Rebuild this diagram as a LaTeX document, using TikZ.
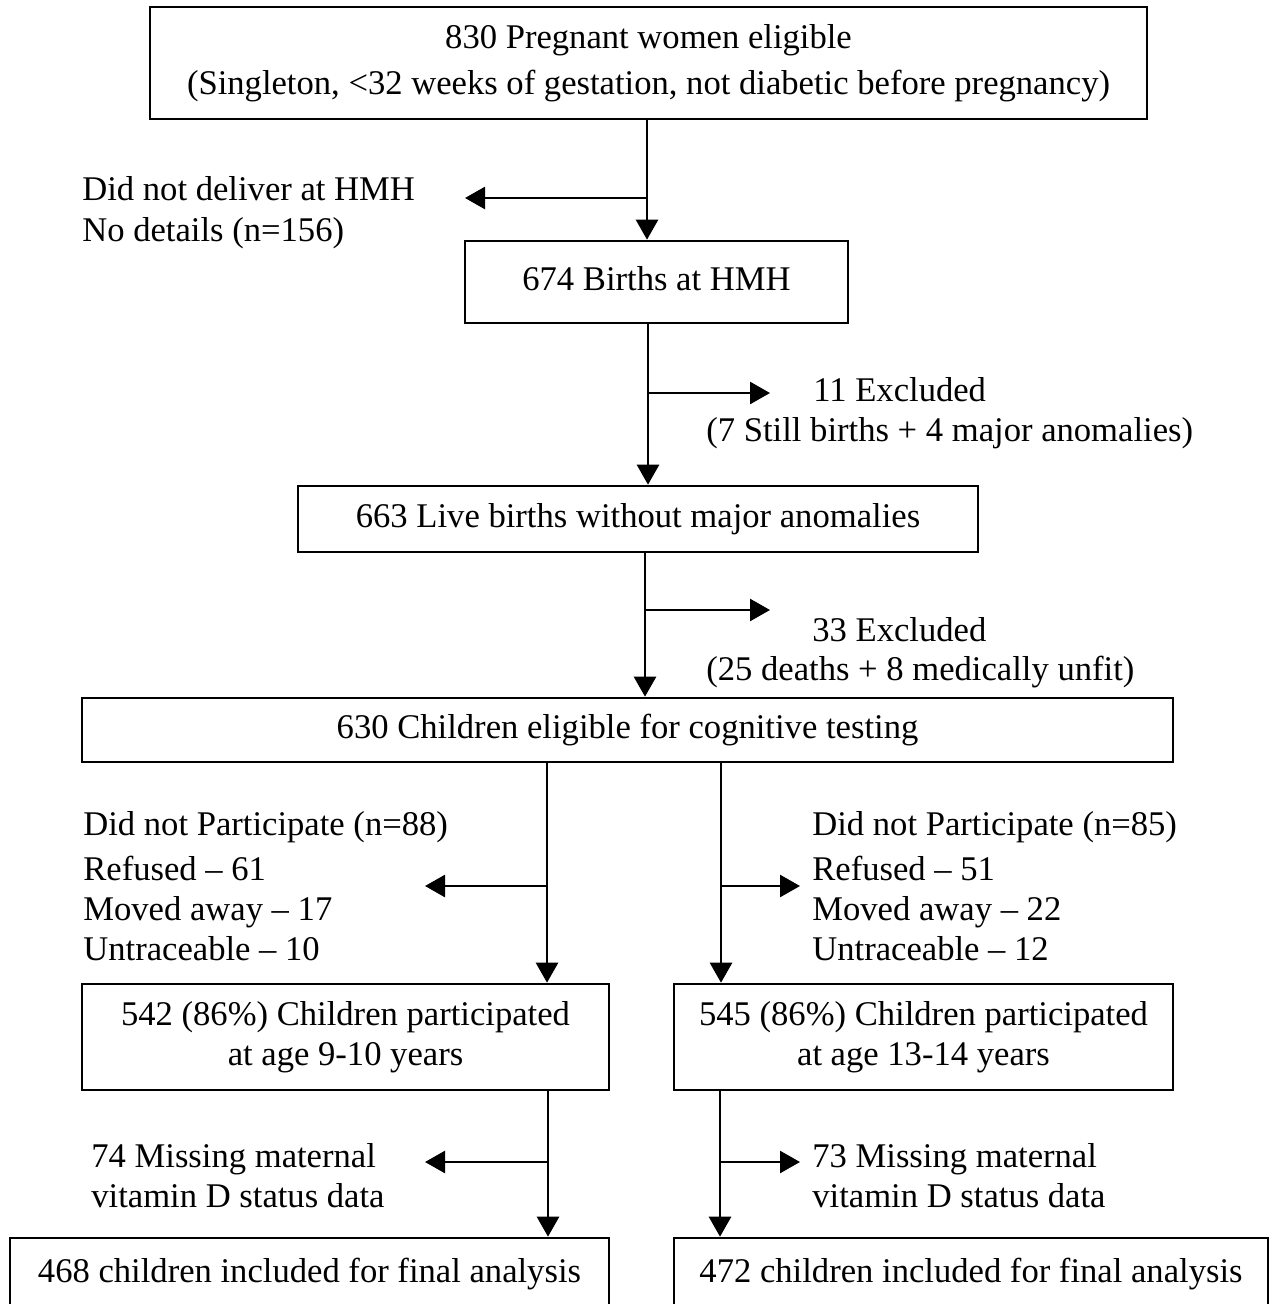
\documentclass[tikz,border=0pt]{standalone}
\usepackage{fontspec}
\setmainfont{Liberation Serif}
\usetikzlibrary{arrows.meta}
\begin{document}
\begin{tikzpicture}[x=0.02cm,y=-0.02cm,
  every node/.style={font=\fontsize{19.7}{22.8}\selectfont, inner sep=0pt},
  box/.style={draw, line width=1.5pt, align=center},
  one/.style={text height=1em, text depth=0.08em},
  lbl/.style={anchor=base west},
  arr/.style={line width=1.5pt, -{Triangle[length=0.4cm,width=0.44cm]}},
  side/.style={line width=1.5pt, -{Triangle[length=0.4cm,width=0.44cm]}}]
\useasboundingbox (0,0) rectangle (1274,1304);

% boxes
\node[box, minimum width=19.94cm, minimum height=2.24cm, font=\fontsize{19.7}{26.2}\selectfont] (b1) at (648.5,63)
  {\raisebox{-4\pgflinewidth}{}830 Pregnant women eligible\\(Singleton, <32 weeks of gestation, not diabetic before pregnancy)};
\node[box, one, minimum width=7.66cm, minimum height=1.64cm] (b2) at (656.5,282) {674 Births at HMH};
\node[box, one, minimum width=13.6cm, minimum height=1.32cm] (b3) at (638,519) {663 Live births without major anomalies};
\node[box, one, minimum width=21.82cm, minimum height=1.28cm] (b4) at (627.5,730) {630 Children eligible for cognitive testing};
\node[box, minimum width=10.54cm, minimum height=2.12cm] (b5) at (345.5,1037) {542 (86\%) Children participated\\at age 9-10 years};
\node[box, minimum width=9.98cm, minimum height=2.12cm] (b6) at (923.5,1037) {545 (86\%) Children participated\\at age 13-14 years};
\node[box, one, minimum width=11.98cm, minimum height=1.44cm] (b7) at (309.5,1274) {468 children included for final analysis};
\node[box, one, minimum width=11.88cm, minimum height=1.44cm] (b8) at (971,1274) {472 children included for final analysis};

% side texts
\node[lbl] (t1a) at (82,201) {Did not deliver at HMH};
\node[lbl] (t1b) at (82,241) {No details (n=156)};
\node[lbl] (t2a) at (813,401) {11 Excluded};
\node[lbl] (t2b) at (706,441) {(7 Still births + 4 major anomalies)};
\node[lbl] (t3a) at (812,641) {33 Excluded};
\node[lbl] (t3b) at (706,680) {(25 deaths + 8 medically unfit)};
\node[lbl] (t4a) at (83,835) {Did not Participate (n=88)};
\node[lbl] (t4b) at (83,880) {Refused – 61};
\node[lbl] (t4c) at (83,920) {Moved away – 17};
\node[lbl] (t4d) at (83,960) {Untraceable – 10};
\node[lbl] (t5a) at (812,835) {Did not Participate (n=85)};
\node[lbl] (t5b) at (812,880) {Refused – 51};
\node[lbl] (t5c) at (812,920) {Moved away – 22};
\node[lbl] (t5d) at (812,960) {Untraceable – 12};
\node[lbl] (t6a) at (91,1167) {74 Missing maternal};
\node[lbl] (t6b) at (91,1207) {vitamin D status data};
\node[lbl] (t7a) at (812,1167) {73 Missing maternal};
\node[lbl] (t7b) at (812,1207) {vitamin D status data};

% branch points and free ends
\coordinate (j1) at (647,198);  \coordinate (e1) at (465,198);
\coordinate (j2) at (648,393);  \coordinate (e2) at (770,393);
\coordinate (j3) at (645,610);  \coordinate (e3) at (770,610);
\coordinate (j4) at (547,886);  \coordinate (e4) at (425,886);
\coordinate (j5) at (721,886);  \coordinate (e5) at (800,886);
\coordinate (j6) at (548,1162); \coordinate (e6) at (425,1162);
\coordinate (j7) at (720,1162); \coordinate (e7) at (800,1162);

% main flow
\draw[arr] (b1.south -| j1) -- (b2.north -| j1);
\draw[arr] (b2.south -| j2) -- (b3.north -| j2);
\draw[arr] (b3.south -| j3) -- (b4.north -| j3);
\draw[arr] (b4.south -| j4) -- (b5.north -| j4);
\draw[arr] (b4.south -| j5) -- (b6.north -| j5);
\draw[arr] (b5.south -| j6) -- (b7.north -| j6);
\draw[arr] (b6.south -| j7) -- (b8.north -| j7);

% side exits
\draw[side] (j1) -- (e1);
\draw[side] (j2) -- (e2);
\draw[side] (j3) -- (e3);
\draw[side] (j4) -- (e4);
\draw[side] (j5) -- (e5);
\draw[side] (j6) -- (e6);
\draw[side] (j7) -- (e7);
\end{tikzpicture}
\end{document}
